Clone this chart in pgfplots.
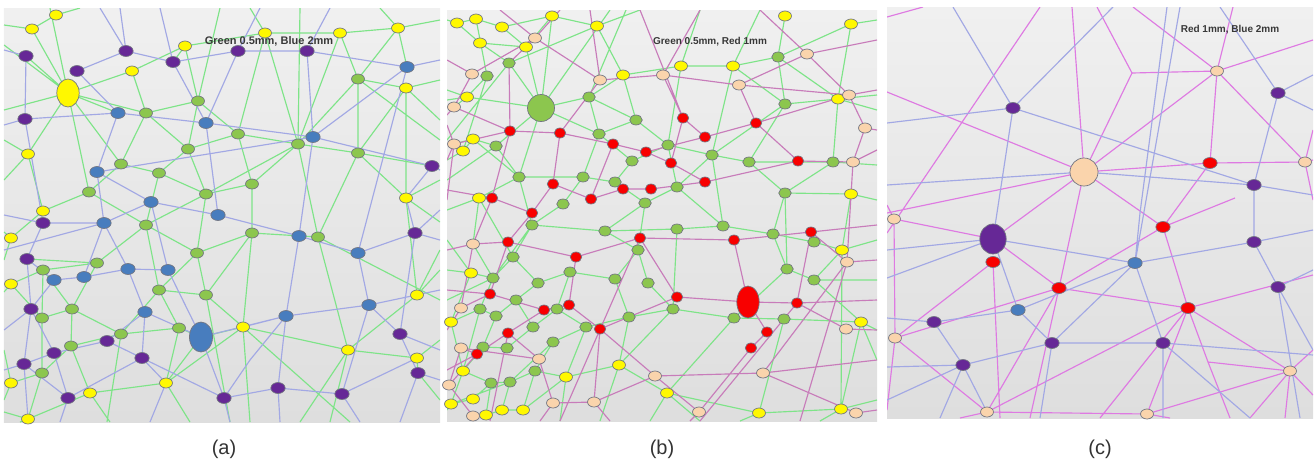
\documentclass[border=0pt]{standalone}
\usepackage{pgfplots}
\pgfplotsset{compat=1.18}
\usepackage{fontspec}
\setmainfont{Liberation Sans}
\definecolor{bgtop}{RGB}{240,240,240}
\definecolor{bgbot}{RGB}{222,222,222}
\definecolor{eg}{RGB}{126,228,136}
\definecolor{eb}{RGB}{162,168,228}
\definecolor{epb}{RGB}{200,124,186}
\definecolor{epc}{RGB}{222,122,226}
\definecolor{nyel}{RGB}{255,248,0}
\definecolor{npur}{RGB}{102,40,150}
\definecolor{nblu}{RGB}{72,125,190}
\definecolor{ngrn}{RGB}{140,198,78}
\definecolor{nred}{RGB}{248,0,0}
\definecolor{npch}{RGB}{250,212,172}
\definecolor{nout}{RGB}{115,118,130}
\pgfplotsset{
  panel/.style={scale only axis, anchor=north west, y dir=reverse,
    xtick=\empty, ytick=\empty, axis line style={draw=none}, clip=true,
    axis background/.style={top color=bgtop, bottom color=bgbot},
    unbounded coords=jump},
  edge/.style={line width=1.15pt, no marks, #1},
  nd/.style 2 args={only marks, mark=*, mark size=#2, mark options={fill=#1, draw=nout, line width=0.7pt, xscale=1.3}},
  ndx/.style n args={3}{only marks, mark=*, mark size=#2, mark options={fill=#1, draw=nout, line width=0.7pt, xscale=#3}},
}
\begin{document}
\begin{tikzpicture}
\useasboundingbox (0,0) rectangle (1315pt,-461pt);
% ---------------- panel (a)
\begin{axis}[panel, at={(4pt,-8pt)}, width=436pt, height=414pt, xmin=4, xmax=440, ymin=8, ymax=422]
\addplot[edge=eg] coordinates {
(4,45)(68,93)(132,71)(185,46)(265,33)(340,33)(398,28)(440,20) (nan,nan)
(32,29)(56,15)(80,8) (nan,nan)
(4,25)(32,29)(68,93) (nan,nan)
(26,56)(68,93)(4,110) (nan,nan)
(68,93)(146,113)(198,101)(185,46) (nan,nan)
(68,93)(121,164)(159,173)(206,194)(252,184)(238,134)(198,101) (nan,nan)
(68,93)(89,192)(43,211)(11,238)(4,232) (nan,nan)
(68,93)(28,154)(4,140) (nan,nan)
(68,93)(50,8) (nan,nan)
(68,93)(118,113) (nan,nan)
(132,71)(146,113)(121,164)(89,192) (nan,nan)
(185,46)(173,62) (nan,nan)
(265,33)(250,8) (nan,nan)
(265,33)(238,134)(188,149)(159,173)(146,225)(97,263)(43,270)(11,284)(4,292) (nan,nan)
(265,33)(298,144)(252,184)(252,233)(197,253)(146,225)(89,192) (nan,nan)
(340,33)(358,79)(358,153)(406,198)(440,180) (nan,nan)
(340,33)(298,144)(318,237)(348,350)(417,358)(440,340) (nan,nan)
(398,28)(358,79)(298,144)(238,134) (nan,nan)
(398,28)(380,8) (nan,nan)
(398,28)(407,67) (nan,nan)
(440,80)(406,88)(358,79) (nan,nan)
(406,88)(358,153)(298,144) (nan,nan)
(406,88)(406,198)(440,222) (nan,nan)
(406,88)(440,120) (nan,nan)
(358,153)(432,166) (nan,nan)
(358,153)(318,237)(252,233)(243,327)(201,337)(179,328)(121,334)(72,309)(42,318)(11,284) (nan,nan)
(298,144)(206,194)(146,225)(159,290)(206,295)(243,327)(348,350)(417,295)(440,270) (nan,nan)
(252,184)(252,233)(206,295)(197,253)(159,290)(179,328)(166,383)(90,393)(28,419)(20,422) (nan,nan)
(243,327)(250,422) (nan,nan)
(348,350)(330,422) (nan,nan)
(348,350)(300,422) (nan,nan)
(417,295)(406,198) (nan,nan)
(417,358)(418,373)(440,400) (nan,nan)
(166,383)(201,337) (nan,nan)
(166,383)(190,422) (nan,nan)
(90,393)(110,422) (nan,nan)
(90,393)(71,346)(42,373)(11,383)(4,400) (nan,nan)
(42,373)(28,419)(4,412) (nan,nan)
(43,270)(42,318)(42,373) (nan,nan)
(43,270)(72,309)(71,346)(121,334)(159,290) (nan,nan)
(97,263)(72,309) (nan,nan)
(97,263)(27,259) (nan,nan)
(206,194)(197,253) (nan,nan)
(188,149)(206,194) (nan,nan)
(146,113)(188,149)(198,101) (nan,nan)
(252,233)(318,237)(440,300) (nan,nan)
(4,180)(28,154)(43,211) (nan,nan)
(11,238)(4,260) (nan,nan)
(11,383)(4,350) (nan,nan)
(166,383)(243,327)(350,422) (nan,nan)
(417,295)(440,250) (nan,nan)
(358,79)(440,140) (nan,nan)
(298,144)(300,8) (nan,nan)
(198,101)(220,8) (nan,nan)
(121,334)(107,422) (nan,nan)
(206,295)(230,422) (nan,nan)
};
\addplot[edge=eb] coordinates {
(4,50)(26,56)(25,119)(43,223)(27,259)(31,309)(24,364)(4,370) (nan,nan)
(100,8)(126,51)(77,71)(118,113)(97,172)(104,223)(84,277)(54,280)(27,259) (nan,nan)
(4,125)(25,119)(118,113)(206,123)(313,137)(432,166)(440,170) (nan,nan)
(126,51)(173,62)(238,51)(307,51)(407,67)(440,60) (nan,nan)
(160,8)(173,62)(206,123)(218,215)(151,202)(97,172)(313,137)(407,67) (nan,nan)
(238,51)(206,123) (nan,nan)
(330,8)(307,51)(313,137)(299,236)(358,253)(415,233)(440,240) (nan,nan)
(218,215)(299,236)(286,316)(369,305)(400,334)(418,373)(440,380) (nan,nan)
(151,202)(168,270)(201,337)(286,316) (nan,nan)
(151,202)(104,223)(128,269)(168,270) (nan,nan)
(104,223)(43,223)(4,215) (nan,nan)
(84,277)(128,269)(145,312)(107,341)(54,353)(24,364) (nan,nan)
(145,312)(201,337) (nan,nan)
(145,312)(142,358)(224,398)(278,388)(342,394)(417,358) (nan,nan)
(201,337)(224,398)(230,422) (nan,nan)
(278,388)(280,422) (nan,nan)
(342,394)(360,422) (nan,nan)
(418,373)(400,422) (nan,nan)
(358,253)(369,305)(440,290) (nan,nan)
(358,253)(407,67) (nan,nan)
(400,334)(415,233) (nan,nan)
(54,280)(31,309)(54,353)(68,398)(60,422) (nan,nan)
(68,398)(142,358)(107,341) (nan,nan)
(104,223)(4,250) (nan,nan)
(142,358)(166,383)(150,422) (nan,nan)
(286,316)(243,327) (nan,nan)
(286,316)(278,388) (nan,nan)
(369,305)(342,394) (nan,nan)
(432,166)(406,198)(415,233) (nan,nan)
(24,364)(28,419) (nan,nan)
(4,330)(31,309) (nan,nan)
(126,51)(120,8) (nan,nan)
(238,51)(260,8) (nan,nan)
(415,233)(440,210) (nan,nan)
(400,334)(440,350) (nan,nan)
(68,398)(24,364) (nan,nan)
(224,398)(250,360)(286,316) (nan,nan)
};
\addplot[nd={nyel}{5}] coordinates {(56,15)(32,29)(265,33)(340,33)(398,28)(185,46)(132,71)(406,88)(28,154)(406,198)(43,211)(11,238)(11,284)(417,295)(243,327)(348,350)(417,358)(11,383)(166,383)(90,393)(28,419)};
\addplot[ndx={nyel}{14}{0.8}] coordinates {(68,93)};
\addplot[nd={npur}{5.5}] coordinates {(26,56)(126,51)(77,71)(173,62)(238,51)(307,51)(25,119)(432,166)(43,223)(415,233)(27,259)(31,309)(107,341)(54,353)(142,358)(24,364)(400,334)(418,373)(68,398)(224,398)(278,388)(342,394)};
\addplot[nd={nblu}{5.5}] coordinates {(407,67)(118,113)(206,123)(313,137)(97,172)(151,202)(218,215)(104,223)(299,236)(358,253)(54,280)(84,277)(128,269)(168,270)(145,312)(286,316)(369,305)};
\addplot[ndx={nblu}{15}{0.77}] coordinates {(201,337)};
\addplot[nd={ngrn}{5}] coordinates {(358,79)(198,101)(146,113)(238,134)(298,144)(188,149)(358,153)(121,164)(159,173)(252,184)(89,192)(206,194)(146,225)(252,233)(318,237)(197,253)(97,263)(43,270)(159,290)(206,295)(72,309)(42,318)(121,334)(179,328)(71,346)(42,373)};
\node[font=\bfseries\fontsize{11}{13}\selectfont, text=black!78, inner sep=0pt] at (axis cs:269,41) {Green 0.5mm, Blue 2mm};
\end{axis}
% ---------------- panel (b)
\begin{axis}[panel, at={(447pt,-10pt)}, width=430pt, height=411pt, xmin=447, xmax=877, ymin=10, ymax=421]
\addplot[edge=eg] coordinates {
(447,20)(457,23)(476,19)(502,27)(552,16)(597,26)(640,10) (nan,nan)
(457,23)(480,43)(526,47) (nan,nan)
(480,43)(509,63)(541,108) (nan,nan)
(502,27)(526,47)(541,108)(589,97)(623,75)(681,66)(733,66)(785,104)(838,99)(877,95) (nan,nan)
(476,19)(487,76)(467,97)(454,107) (nan,nan)
(541,108)(467,97)(447,90) (nan,nan)
(541,108)(496,146)(473,139)(454,144) (nan,nan)
(541,108)(599,134)(636,120)(668,145)(712,155)(749,162)(833,162)(877,165) (nan,nan)
(541,108)(519,177)(479,198)(447,210) (nan,nan)
(541,108)(552,16) (nan,nan)
(541,108)(610,10) (nan,nan)
(589,97)(599,134)(583,177)(563,204)(532,225)(513,257)(493,278)(471,273)(447,270) (nan,nan)
(599,134)(632,161)(615,182)(645,203)(677,187)(712,155)(785,104)(778,57)(785,16) (nan,nan)
(632,161)(668,145)(677,187)(723,226)(773,234)(814,242)(842,250)(877,240) (nan,nan)
(749,162)(785,193)(833,162) (nan,nan)
(773,234)(785,193)(851,194)(877,200) (nan,nan)
(496,146)(519,177)(583,177)(615,182) (nan,nan)
(519,177)(532,225)(605,231)(645,203) (nan,nan)
(605,231)(677,229)(723,226) (nan,nan)
(605,231)(638,250)(648,283)(673,309)(734,318)(784,319)(861,322)(877,330) (nan,nan)
(638,250)(615,279)(570,272)(538,283)(516,300)(496,316)(480,309)(451,322)(447,325) (nan,nan)
(570,272)(557,309)(533,327)(507,348)(483,347)(463,371)(451,404)(447,410) (nan,nan)
(615,279)(629,317)(586,327)(553,342)(535,371)(510,382)(491,383)(473,399) (nan,nan)
(557,309)(586,327) (nan,nan)
(629,317)(673,309)(677,229) (nan,nan)
(734,318)(787,269)(814,280)(842,250) (nan,nan)
(787,269)(773,234) (nan,nan)
(814,280)(861,322) (nan,nan)
(784,319)(759,413) (nan,nan)
(734,318)(667,393)(619,365)(566,377)(523,410) (nan,nan)
(513,257)(538,283) (nan,nan)
(493,278)(480,309) (nan,nan)
(516,300)(533,327) (nan,nan)
(496,316)(483,347) (nan,nan)
(877,20)(851,24)(838,99) (nan,nan)
(851,24)(778,57)(733,66) (nan,nan)
(838,99)(833,162) (nan,nan)
(838,99)(877,110) (nan,nan)
(681,66)(700,10) (nan,nan)
(733,66)(760,10) (nan,nan)
(623,75)(597,26) (nan,nan)
(842,250)(841,409)(877,400) (nan,nan)
(861,322)(841,409) (nan,nan)
(759,413)(841,409) (nan,nan)
(473,139)(463,151)(447,160) (nan,nan)
(467,97)(447,100) (nan,nan)
(619,365)(600,421) (nan,nan)
(667,393)(650,421) (nan,nan)
(759,413)(740,421) (nan,nan)
(841,409)(820,421) (nan,nan)
(473,416)(486,415)(502,410)(523,410)(566,377)(535,371) (nan,nan)
(451,404)(510,382) (nan,nan)
(463,371)(491,383) (nan,nan)
(712,155)(723,226) (nan,nan)
(749,162)(785,104) (nan,nan)
(626,10)(589,97) (nan,nan)
(552,16)(526,47) (nan,nan)
(645,203)(638,250) (nan,nan)
(447,300)(493,278)(532,225) (nan,nan)
(479,198)(473,244)(493,278) (nan,nan)
(496,146)(447,180) (nan,nan)
(667,393)(759,413) (nan,nan)
(566,377)(560,421) (nan,nan)
(619,365)(673,309) (nan,nan)
(877,280)(814,280) (nan,nan)
(447,140)(509,63)(597,26) (nan,nan)
(463,151)(487,76) (nan,nan)
(471,273)(451,322)(463,371) (nan,nan)
(473,399)(451,404) (nan,nan)
(502,410)(510,382)(553,342) (nan,nan)
(486,415)(491,383) (nan,nan)
(523,410)(535,371) (nan,nan)
(566,377)(586,327) (nan,nan)
(619,365)(629,317) (nan,nan)
(480,309)(463,371) (nan,nan)
(589,97)(636,120) (nan,nan)
(623,75)(636,120) (nan,nan)
(681,66)(668,145) (nan,nan)
(733,66)(712,155) (nan,nan)
(778,57)(838,99) (nan,nan)
(785,193)(787,269) (nan,nan)
(851,194)(842,250) (nan,nan)
(447,240)(471,273) (nan,nan)
(667,393)(700,421) (nan,nan)
(861,322)(877,360) (nan,nan)
(473,139)(519,177) (nan,nan)
(479,198)(513,257) (nan,nan)
};
\addplot[edge=epb] coordinates {
(447,60)(472,74)(535,38)(600,80)(663,75)(739,85)(807,54)(877,40) (nan,nan)
(500,10)(535,38)(560,10) (nan,nan)
(535,38)(509,63)(510,131)(454,107) (nan,nan)
(447,125)(454,144)(510,131)(560,133)(613,144)(646,152)(705,137)(756,123)(849,95)(877,90) (nan,nan)
(600,80)(560,133) (nan,nan)
(663,75)(683,118)(705,137) (nan,nan)
(640,10)(683,118) (nan,nan)
(646,152)(671,163)(705,182)(798,161)(853,162)(877,150) (nan,nan)
(865,128)(853,162)(847,262)(811,232)(734,240)(640,238)(576,257)(508,242)(473,244)(447,250) (nan,nan)
(739,85)(849,95)(865,128)(877,130) (nan,nan)
(807,54)(760,10) (nan,nan)
(807,54)(849,95) (nan,nan)
(705,182)(651,189)(623,189)(591,199)(553,184)(532,213)(492,198)(447,190) (nan,nan)
(532,213)(508,242) (nan,nan)
(553,184)(560,133) (nan,nan)
(591,199)(613,144) (nan,nan)
(510,131)(492,198) (nan,nan)
(734,240)(748,302)(797,303)(846,329)(877,330) (nan,nan)
(748,302)(677,297)(600,329)(569,305)(544,310)(490,294)(447,290) (nan,nan)
(544,310)(508,333)(477,354)(447,370) (nan,nan)
(748,302)(767,332)(751,348)(699,412)(655,376)(600,329) (nan,nan)
(655,376)(763,373)(847,262) (nan,nan)
(763,373)(856,413) (nan,nan)
(763,373)(877,360) (nan,nan)
(655,376)(594,402)(553,403)(539,359)(461,348)(449,385) (nan,nan)
(539,359)(508,333) (nan,nan)
(461,308)(490,294) (nan,nan)
(461,348)(477,354) (nan,nan)
(640,238)(677,297) (nan,nan)
(576,257)(569,305) (nan,nan)
(560,421)(640,238) (nan,nan)
(700,421)(797,303) (nan,nan)
(800,421)(847,262) (nan,nan)
(490,421)(508,333) (nan,nan)
(553,403)(540,421) (nan,nan)
(473,416)(449,385) (nan,nan)
(594,402)(610,421) (nan,nan)
(811,232)(877,225) (nan,nan)
(797,303)(811,232) (nan,nan)
(756,123)(798,161) (nan,nan)
(671,163)(683,118) (nan,nan)
(739,85)(756,123) (nan,nan)
(447,160)(454,144) (nan,nan)
(877,300)(797,303) (nan,nan)
(856,413)(877,410) (nan,nan)
(699,412)(690,421) (nan,nan)
(461,308)(447,330) (nan,nan)
(473,244)(461,308) (nan,nan)
(472,74)(454,107)(447,115) (nan,nan)
(454,144)(447,200) (nan,nan)
(492,198)(473,244) (nan,nan)
(508,242)(490,294)(461,308) (nan,nan)
(477,354)(449,385) (nan,nan)
(539,359)(553,403) (nan,nan)
(594,402)(600,329) (nan,nan)
(877,260)(847,262) (nan,nan)
(663,75)(700,10) (nan,nan)
(600,80)(590,10) (nan,nan)
};
\addplot[nd={nyel}{5}] coordinates {(457,23)(476,19)(502,27)(552,16)(480,43)(526,47)(597,26)(785,16)(851,24)(623,75)(681,66)(733,66)(467,97)(838,99)(473,139)(463,151)(479,198)(851,194)(842,250)(471,273)(451,322)(861,322)(463,371)(619,365)(566,377)(667,393)(473,399)(451,404)(502,410)(486,415)(523,410)(759,413)(841,409)};
\addplot[nd={npch}{5}] coordinates {(535,38)(472,74)(600,80)(663,75)(739,85)(807,54)(454,107)(849,95)(454,144)(865,128)(853,162)(473,244)(847,262)(461,308)(846,329)(461,348)(539,359)(655,376)(763,373)(449,385)(553,403)(594,402)(473,416)(699,412)(856,413)};
\addplot[ndx={ngrn}{5}{1.25}] coordinates {(509,63)(487,76)(589,97)(778,57)(785,104)(636,120)(599,134)(496,146)(668,145)(632,161)(712,155)(749,162)(833,162)(519,177)(583,177)(615,182)(677,187)(563,204)(645,203)(785,193)(532,225)(605,231)(677,229)(723,226)(773,234)(814,242)(638,250)(513,257)(493,278)(538,283)(570,272)(615,279)(648,283)(787,269)(814,280)(516,300)(480,309)(496,316)(557,309)(629,317)(673,309)(734,318)(784,319)(533,327)(586,327)(483,347)(507,348)(553,342)(535,371)(491,383)(510,382)};
\addplot[ndx={ngrn}{13.5}{1}] coordinates {(541,108)};
\addplot[ndx={nred}{5}{1.15}] coordinates {(510,131)(560,133)(613,144)(646,152)(671,163)(683,118)(705,137)(756,123)(798,161)(705,182)(553,184)(623,189)(651,189)(492,198)(591,199)(532,213)(508,242)(576,257)(640,238)(734,240)(811,232)(490,294)(544,310)(569,305)(677,297)(797,303)(508,333)(600,329)(767,332)(477,354)(751,348)};
\addplot[ndx={nred}{16}{0.7}] coordinates {(748,302)};
\node[font=\bfseries\fontsize{10}{12}\selectfont, text=black!78, inner sep=0pt] at (axis cs:710,42) {Green 0.5mm, Red 1mm};
\end{axis}
% ---------------- panel (c)
\begin{axis}[panel, at={(887pt,-7pt)}, width=426pt, height=411pt, xmin=887, xmax=1313, ymin=7, ymax=418]
\addplot[edge=epc] coordinates {
(887,17)(923,7) (nan,nan)
(887,92)(1084,172)(1210,163)(1305,162)(1313,160) (nan,nan)
(1040,7)(887,233) (nan,nan)
(1072,7)(1084,172) (nan,nan)
(1097,7)(1132,73)(1217,71)(1313,40) (nan,nan)
(1132,73)(1084,172) (nan,nan)
(1133,7)(1217,71)(1233,7) (nan,nan)
(1217,71)(1210,163)(1163,227) (nan,nan)
(1217,71)(1084,172) (nan,nan)
(1217,71)(1305,162) (nan,nan)
(1084,172)(887,213) (nan,nan)
(1084,172)(993,239) (nan,nan)
(1084,172)(1059,288) (nan,nan)
(1084,172)(1163,227) (nan,nan)
(887,205)(894,219)(993,239)(1059,288)(1188,308)(1290,371) (nan,nan)
(894,219)(895,338)(887,410) (nan,nan)
(993,262)(895,338) (nan,nan)
(895,338)(1059,288)(1163,227)(1235,198) (nan,nan)
(1059,288)(987,412) (nan,nan)
(895,338)(987,412)(1147,414)(1290,371)(1313,350) (nan,nan)
(1188,308)(1147,414) (nan,nan)
(1188,308)(1208,362)(1290,371) (nan,nan)
(1188,308)(1313,275) (nan,nan)
(1188,308)(1163,227) (nan,nan)
(987,412)(1188,308) (nan,nan)
(1290,371)(1313,395) (nan,nan)
(1290,371)(1285,418) (nan,nan)
(1290,371)(1250,418) (nan,nan)
(1100,418)(1188,308) (nan,nan)
(987,412)(960,418) (nan,nan)
(1305,162)(1313,200) (nan,nan)
(1305,162)(1313,130) (nan,nan)
(993,262)(1000,418) (nan,nan)
(1059,288)(1030,418) (nan,nan)
(1208,362)(1230,418) (nan,nan)
(1147,414)(1170,418) (nan,nan)
};
\addplot[edge=eb] coordinates {
(953,7)(1013,108)(1113,7) (nan,nan)
(887,123)(1013,108)(993,239) (nan,nan)
(1013,108)(1254,185)(1313,195) (nan,nan)
(1167,7)(1140,213)(1135,263) (nan,nan)
(1220,7)(1278,93)(1313,75) (nan,nan)
(1278,93)(1254,185) (nan,nan)
(1278,93)(1313,110) (nan,nan)
(887,185)(1084,172)(1254,185) (nan,nan)
(993,239)(1135,263)(1254,242)(1313,230) (nan,nan)
(1135,263)(1163,343)(1163,418) (nan,nan)
(1135,263)(1018,310)(934,322)(887,318) (nan,nan)
(1018,310)(1052,343)(1040,418) (nan,nan)
(1018,310)(993,239)(887,278) (nan,nan)
(934,322)(963,365)(887,367) (nan,nan)
(963,365)(1052,343)(1163,343)(1313,355) (nan,nan)
(963,365)(987,412) (nan,nan)
(1254,242)(1278,287)(1313,350) (nan,nan)
(1278,287)(1313,270) (nan,nan)
(1254,185)(1254,242) (nan,nan)
(887,400)(963,365) (nan,nan)
(1052,343)(1135,263) (nan,nan)
(887,250)(993,239) (nan,nan)
(1163,343)(1250,418) (nan,nan)
(1278,287)(1300,418) (nan,nan)
(1135,263)(1180,7) (nan,nan)
(963,365)(940,418) (nan,nan)
};
\addplot[nd={npch}{5}] coordinates {(1217,71)(1305,162)(894,219)(895,338)(1290,371)(987,412)(1147,414)};
\addplot[ndx={npch}{14}{1}] coordinates {(1084,172)};
\addplot[nd={npur}{5.5}] coordinates {(1013,108)(1278,93)(1254,185)(1254,242)(1278,287)(934,322)(963,365)(1052,343)(1163,343)};
\addplot[ndx={npur}{15}{0.88}] coordinates {(993,239)};
\addplot[nd={nred}{5.5}] coordinates {(1210,163)(993,262)(1163,227)(1059,288)(1188,308)};
\addplot[nd={nblu}{5.5}] coordinates {(1135,263)(1018,310)};
\node[font=\bfseries\fontsize{10}{12}\selectfont, text=black!78, inner sep=0pt] at (axis cs:1230,30) {Red 1mm, Blue 2mm};
\end{axis}
\node[font=\fontsize{20}{24}\selectfont, text=black!80] at (224pt,-449pt) {(a)};
\node[font=\fontsize{20}{24}\selectfont, text=black!80] at (662pt,-449pt) {(b)};
\node[font=\fontsize{20}{24}\selectfont, text=black!80] at (1100pt,-449pt) {(c)};
\end{tikzpicture}
\end{document}
